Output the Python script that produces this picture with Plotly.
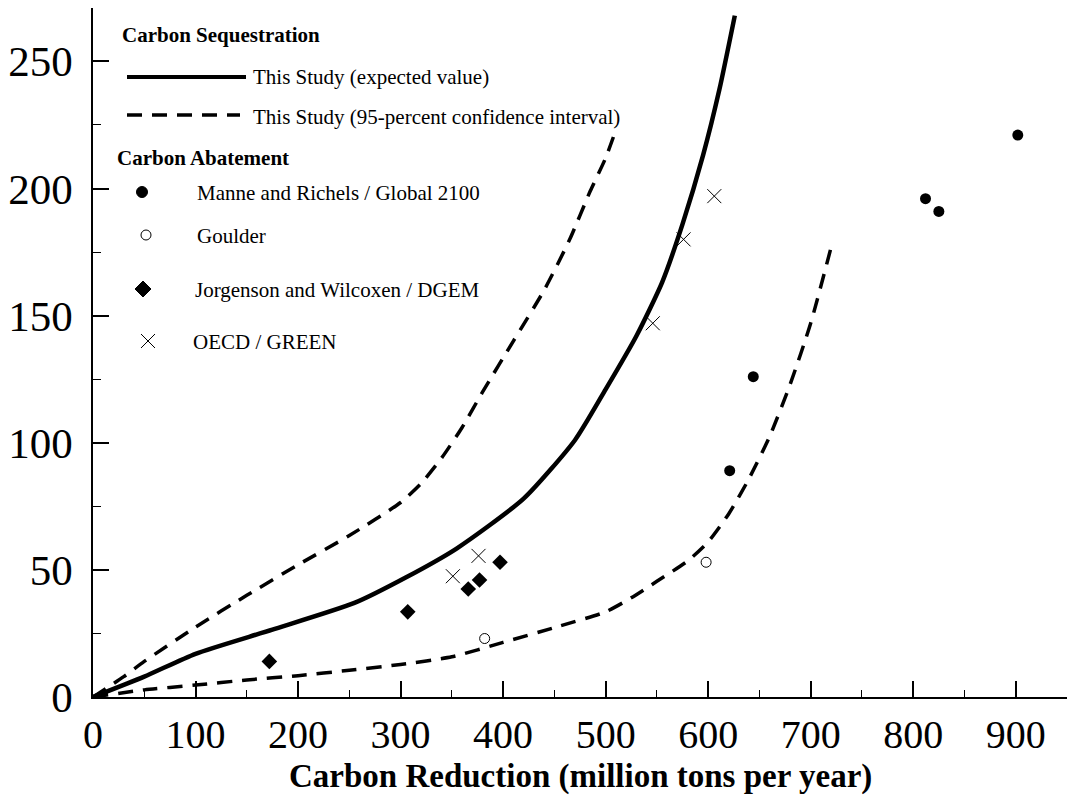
import plotly.graph_objects as go

# ---------------- data ----------------
solid_x = [0, 50, 100, 175, 255, 305, 355, 420, 470, 500, 530, 555, 575, 595, 611, 626]
solid_y = [0, 8, 17, 26.5, 37, 47, 58.5, 78, 101, 121, 142, 163, 186, 213, 239, 268]

upper_x = [0, 30, 50, 100, 150, 200, 250, 300, 320, 340, 360, 380, 410, 440, 465, 485, 500, 510]
upper_y = [0, 8, 14, 27.5, 40, 52, 63.5, 76.5, 84, 94, 106, 120, 140, 160, 180, 199, 212, 223]

lower_x = [0, 50, 100, 150, 200, 250, 300, 350, 400, 450, 500, 525, 550, 580, 600, 620, 640, 660, 680, 700, 720]
lower_y = [0, 2.8, 4.7, 6.7, 8.4, 10.5, 12.8, 15.8, 21.5, 27.3, 33.5, 39, 45.5, 53.5, 61, 72, 86, 102.5, 123, 147, 177]

manne_x = [621, 644, 812, 825, 902]
manne_y = [89, 126, 196, 191, 221]

goulder_x = [382, 598]
goulder_y = [23, 53]

jw_x = [172, 307, 366, 377, 397]
jw_y = [14, 33.5, 42.5, 46, 53]

oecd_x = [351, 376, 546, 576, 606]
oecd_y = [47.5, 55.5, 147, 180, 197]

x_ticks = [0, 100, 200, 300, 400, 500, 600, 700, 800, 900]
y_ticks = [0, 50, 100, 150, 200, 250]

# ---------------- figure ----------------
SERIF = "Liberation Serif"
DASH = "15px,10px"
SMOOTH = 0.6

fig = go.Figure()
fig.add_trace(go.Scatter(x=upper_x, y=upper_y, mode="lines", line=dict(color="black", width=3.5, dash=DASH, shape="spline", smoothing=SMOOTH), showlegend=False))
fig.add_trace(go.Scatter(x=lower_x, y=lower_y, mode="lines", line=dict(color="black", width=3.5, dash=DASH, shape="spline", smoothing=SMOOTH), showlegend=False))
fig.add_trace(go.Scatter(x=solid_x, y=solid_y, mode="lines", line=dict(color="black", width=4.5, shape="spline", smoothing=SMOOTH), showlegend=False))
fig.add_trace(go.Scatter(x=manne_x, y=manne_y, mode="markers", marker=dict(symbol="circle", size=11, color="black"), showlegend=False))
fig.add_trace(go.Scatter(x=goulder_x, y=goulder_y, mode="markers", marker=dict(symbol="circle-open", size=10, color="black", line=dict(width=1)), showlegend=False))
fig.add_trace(go.Scatter(x=jw_x, y=jw_y, mode="markers", marker=dict(symbol="diamond", size=12, color="black"), showlegend=False))
fig.add_trace(go.Scatter(x=oecd_x, y=oecd_y, mode="markers", marker=dict(symbol="x-thin-open", size=14, color="black", line=dict(width=1, color="black")), showlegend=False))

# ---------------- manual legend (pixel -> paper) ----------------
L, R, T, B = 93, 1067, 8, 697
def px(x):
    return (x - L) / (R - L)
def py(y):
    return (B - y) / (B - T)

shapes = [
    dict(type="line", xref="paper", yref="paper", x0=px(127), x1=px(246), y0=py(77), y1=py(77), line=dict(color="black", width=4)),
    dict(type="line", xref="paper", yref="paper", x0=px(127), x1=px(240), y0=py(115), y1=py(115), line=dict(color="black", width=3.5, dash=DASH)),
    dict(type="circle", xref="paper", yref="paper", x0=px(142 - 5.5), x1=px(142 + 5.5), y0=py(192 + 5.5), y1=py(192 - 5.5), fillcolor="black", line=dict(color="black", width=1)),
    dict(type="circle", xref="paper", yref="paper", x0=px(146 - 5), x1=px(146 + 5), y0=py(235 + 5), y1=py(235 - 5), line=dict(color="black", width=1)),
    dict(type="path", xref="paper", yref="paper",
         path=f"M {px(143-8)} {py(289)} L {px(143)} {py(281)} L {px(143+8)} {py(289)} L {px(143)} {py(297)} Z",
         fillcolor="black", line=dict(color="black", width=1)),
    dict(type="path", xref="paper", yref="paper",
         path=f"M {px(148-7)} {py(341-7)} L {px(148+7)} {py(341+7)} M {px(148-7)} {py(341+7)} L {px(148+7)} {py(341-7)}",
         line=dict(color="black", width=1)),
]

def ann(text, x, y, size=21):
    return dict(text=text, x=px(x), y=py(y), xref="paper", yref="paper", xanchor="left", yanchor="middle",
                showarrow=False, font=dict(family=SERIF, size=size, color="black"))

annotations = [
    ann("<b>Carbon Sequestration</b>", 120, 35),
    ann("This Study (expected value)", 251, 77),
    ann("This Study (95-percent confidence interval)", 251, 117),
    ann("<b>Carbon Abatement</b>", 115, 158),
    ann("Manne and Richels / Global 2100", 195, 193),
    ann("Goulder", 195, 236),
    ann("Jorgenson and Wilcoxen / DGEM", 193, 290),
    ann("OECD / GREEN", 191, 342),
    dict(text="<b>Carbon Reduction (million tons per year)</b>", x=0.5, y=py(777), xref="paper", yref="paper",
         xanchor="center", yanchor="middle", showarrow=False, font=dict(family=SERIF, size=33, color="black")),
]

fig.update_layout(
    width=1075, height=799,
    margin=dict(l=L, r=1075 - R, t=T, b=799 - B, autoexpand=False),
    paper_bgcolor="white", plot_bgcolor="white",
    font=dict(family=SERIF, color="black"),
    shapes=shapes, annotations=annotations,
    showlegend=False,
)
fig.update_xaxes(
    range=[0, 950], showgrid=False, zeroline=False, automargin=False,
    showline=True, linecolor="black", linewidth=1.5,
    ticks="inside", ticklen=16, tickwidth=1.5, tickcolor="black",
    tickvals=x_ticks, ticktext=[str(v) for v in x_ticks],
    minor=dict(dtick=50, tick0=0, ticks="inside", ticklen=7, tickwidth=1, tickcolor="black", showgrid=False),
    tickfont=dict(family=SERIF, size=40, color="black"),
    ticklabelstandoff=1,
)
fig.update_yaxes(
    range=[0, 271], showgrid=False, zeroline=False, automargin=False,
    showline=True, linecolor="black", linewidth=1.5,
    ticks="inside", ticklen=16, tickwidth=1.5, tickcolor="black",
    tickvals=y_ticks, ticktext=[str(v) for v in y_ticks],
    minor=dict(dtick=25, tick0=0, ticks="inside", ticklen=8, tickwidth=1, tickcolor="black", showgrid=False),
    tickfont=dict(family=SERIF, size=43, color="black"),
    ticklabelstandoff=10,
)

fig.write_html("out.html", config={"displayModeBar": False}, post_script="document.body.style.margin='0px';")
